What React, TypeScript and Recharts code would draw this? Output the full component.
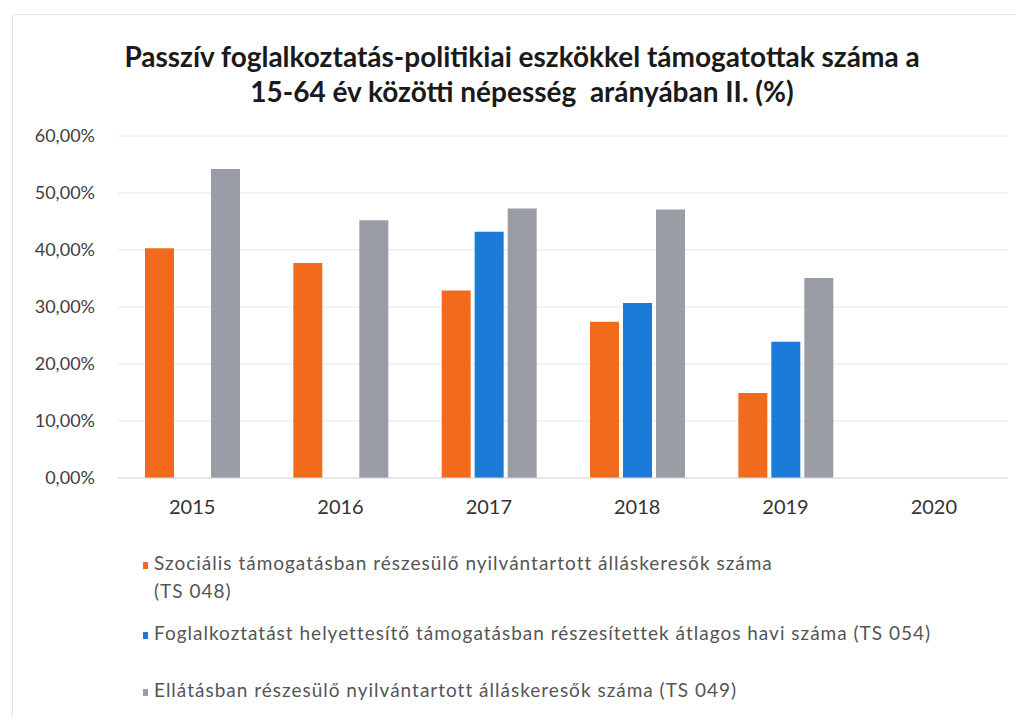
import React from 'react';
import { BarChart, Bar, XAxis, YAxis, CartesianGrid } from 'recharts';

const years = ['2015', '2016', '2017', '2018', '2019', '2020'];
const ts048 = [40.3, 37.7, 32.9, 27.4, 14.9, null];
const ts054 = [null, null, 43.2, 30.7, 23.9, null];
const ts049 = [54.2, 45.2, 47.3, 47.1, 35.1, null];
const yTicks = [0, 10, 20, 30, 40, 50, 60];

const series = [
  { key: 'ts048', color: '#F26B1D', label: ['Szociális támogatásban részesülő nyilvántartott álláskeresők száma', '(TS 048)'], top: 541 },
  { key: 'ts054', color: '#1C7AD8', label: ['Foglalkoztatást helyettesítő támogatásban részesítettek átlagos havi száma (TS 054)'], top: 611 },
  { key: 'ts049', color: '#9A9DA6', label: ['Ellátásban részesülő nyilvántartott álláskeresők száma (TS 049)'], top: 668 },
];

const data = years.map((year, i) => ({
  year,
  ts048: ts048[i],
  ts054: ts054[i],
  ts049: ts049[i],
}));

const fmt = (v: number) => `${v.toFixed(2).replace('.', ',')}%`;
const font = 'Lato, "Open Sans", sans-serif';

export default function App() {
  return (
    <div style={{ position: 'relative', width: 1008, height: 709, fontFamily: font, background: '#fff' }}>
      <div
        style={{
          position: 'absolute',
          left: 4,
          top: 6,
          right: 0,
          bottom: 0,
          borderLeft: '1px solid #e6e6e6',
          borderTop: '1px solid #ececec',
        }}
      />
      <div
        style={{
          position: 'absolute',
          left: 14,
          top: 31,
          width: 1000,
          textAlign: 'center',
          fontSize: 28,
          lineHeight: '35px',
          fontWeight: 700,
          color: '#1a1a1a',
        }}
      >
        Passzív foglalkoztatás-politikiai eszkökkel támogatottak száma a
        <br />
        15-64 év közötti népesség&nbsp; arányában II. (%)
      </div>
      <div style={{ position: 'absolute', left: 0, top: 0 }}>
        <BarChart
          width={1008}
          height={510}
          data={data}
          margin={{ top: 128, right: 8, bottom: 10, left: 0 }}
          barSize={29}
          barGap={4}
        >
          <CartesianGrid vertical={false} stroke="#e6e6e6" />
          <XAxis
            dataKey="year"
            height={30}
            tickLine={false}
            tickSize={0}
            tickMargin={22}
            axisLine={{ stroke: '#d9d9d9' }}
            tick={{ fill: '#333', fontSize: 20, fontFamily: font }}
          />
          <YAxis
            width={110}
            domain={[0, 60]}
            ticks={yTicks}
            tickFormatter={fmt}
            axisLine={false}
            tickLine={false}
            tickSize={0}
            tickMargin={23}
            tick={{ fill: '#404040', fontSize: 18, fontFamily: font }}
          />
          {series.map((s) => (
            <Bar key={s.key} dataKey={s.key} fill={s.color} isAnimationActive={false} />
          ))}
        </BarChart>
      </div>
      {series.map((s) => (
        <div
          key={s.key}
          style={{
            position: 'absolute',
            left: 135,
            top: s.top,
            fontSize: 19,
            letterSpacing: 1,
            lineHeight: '28px',
            color: '#555',
            whiteSpace: 'nowrap',
          }}
        >
          <span
            style={{
              display: 'inline-block',
              width: 5,
              height: 7,
              background: s.color,
              marginRight: 6,
              verticalAlign: 'middle',
            }}
          />
          {s.label[0]}
          {s.label[1] && (
            <>
              <br />
              <span style={{ paddingLeft: 11 }}>{s.label[1]}</span>
            </>
          )}
        </div>
      ))}
    </div>
  );
}
